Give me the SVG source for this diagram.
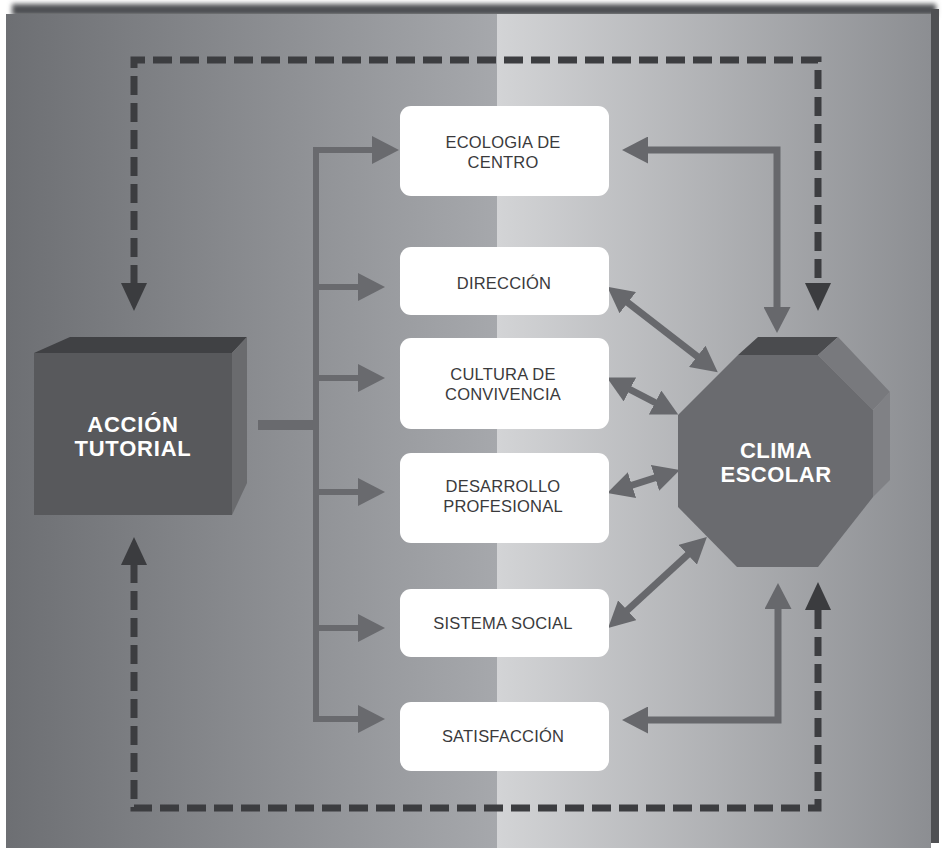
<svg xmlns="http://www.w3.org/2000/svg" width="942" height="851" viewBox="0 0 942 851">
<defs>
<style>
.box{fill:#ffffff;}
.lbl{font-family:"Liberation Sans",Arial,sans-serif;font-size:16.5px;fill:#3a3a3c;text-anchor:middle;letter-spacing:0.2px;}
.big{font-family:"Liberation Sans",Arial,sans-serif;font-size:22px;font-weight:bold;fill:#ffffff;text-anchor:middle;letter-spacing:0.8px;}
.la{fill:none;stroke:#696a6e;stroke-width:6;}
.ra{fill:none;stroke:#67686c;stroke-width:7;}
.da{fill:none;stroke:#3c3d40;stroke-width:7;stroke-dasharray:19 8;}
</style>
<linearGradient id="gl" x1="6" y1="0" x2="497" y2="0" gradientUnits="userSpaceOnUse">
<stop offset="0" stop-color="#6d6f73"/><stop offset="1" stop-color="#a6a8ac"/>
</linearGradient>
<linearGradient id="gr" x1="497" y1="0" x2="931" y2="0" gradientUnits="userSpaceOnUse">
<stop offset="0" stop-color="#d3d4d6"/><stop offset="1" stop-color="#8c8e92"/>
</linearGradient>
<filter id="blur" x="-5%" y="-50%" width="110%" height="200%"><feGaussianBlur stdDeviation="2.5"/></filter>
<marker id="hl" viewBox="0 0 27 28" refX="1" refY="14" markerWidth="27" markerHeight="28" markerUnits="userSpaceOnUse" orient="auto-start-reverse"><path d="M0,0 L27,14 L0,28 z" fill="#696a6e"/></marker>
<marker id="hr" viewBox="0 0 26 27" refX="1" refY="13.5" markerWidth="26" markerHeight="27" markerUnits="userSpaceOnUse" orient="auto-start-reverse"><path d="M0,0 L26,13.5 L0,27 z" fill="#67686c"/></marker>
<marker id="hd" viewBox="0 0 28 26" refX="1" refY="13" markerWidth="28" markerHeight="26" markerUnits="userSpaceOnUse" orient="auto-start-reverse"><path d="M0,0 L28,13 L0,26 z" fill="#3b3c3f"/></marker>
</defs>

<rect width="942" height="851" fill="#ffffff"/>
<!-- background panel -->
<rect x="12" y="4" width="924" height="12" fill="#4e4f52" filter="url(#blur)"/>
<rect x="931" y="9" width="8" height="834" fill="#4f5053"/>
<rect x="6" y="14" width="491" height="834" fill="url(#gl)"/>
<rect x="497" y="14" width="434" height="834" fill="url(#gr)"/>

<!-- connectors -->
<g id="connectors">
<rect x="258" y="420" width="58" height="10" fill="#696a6e"/>
<path class="la" d="M316,722 V150 H373" marker-end="url(#hl)"/>
<path class="la" d="M316,287 H359" marker-end="url(#hl)"/>
<path class="la" d="M316,378 H359" marker-end="url(#hl)"/>
<path class="la" d="M316,492 H359" marker-end="url(#hl)"/>
<path class="la" d="M316,628 H359" marker-end="url(#hl)"/>
<path class="la" d="M316,719 H359" marker-end="url(#hl)"/>

<path class="ra" d="M647,150 H777 V308" marker-start="url(#hr)" marker-end="url(#hr)"/>
<path class="ra" d="M647,720 H778 V608" marker-start="url(#hr)" marker-end="url(#hr)"/>
<path class="ra" d="M627,302 L698,357" marker-start="url(#hr)" marker-end="url(#hr)"/>
<path class="ra" d="M629,389 L656,403" marker-start="url(#hr)" marker-end="url(#hr)"/>
<path class="ra" d="M631,485.5 L656,477.5" marker-start="url(#hr)" marker-end="url(#hr)"/>
<path class="ra" d="M626.5,611 L688.5,554" marker-start="url(#hr)" marker-end="url(#hr)"/>

<path class="da" d="M134,284 V60 H818 V284" marker-start="url(#hd)" marker-end="url(#hd)"/>
<path class="da" d="M134,564 V808 H818 V609" marker-start="url(#hd)" marker-end="url(#hd)"/>
</g>

<!-- Accion tutorial -->
<g id="accion-tutorial">
<polygon points="34,353 70,337 247,337 232,353" fill="#404144"/>
<polygon points="232,353 247,337 247,483 232,515" fill="#6a6b6e"/>
<rect x="34" y="353" width="198" height="162" fill="#58595c"/>
<text class="big" x="133" y="432">ACCIÓN</text>
<text class="big" x="133" y="456">TUTORIAL</text>
</g>

<!-- Clima escolar -->
<g id="clima-escolar">
<polygon points="738,355 758,337 838,337 818,355" fill="#4a4b4e"/>
<polygon points="818,355 838,337 890,392 873,410" fill="#78797d"/>
<polygon points="873,410 890,392 890,480 873,497" fill="#808185"/>
<polygon points="738,355 818,355 873,410 873,497 818,567 737,567 678,507 678,415" fill="#6a6b6f"/>
<text class="big" x="776" y="458" style="letter-spacing:0.5px">CLIMA</text>
<text class="big" x="776" y="482" style="letter-spacing:0.5px">ESCOLAR</text>
</g>

<g id="ecologia">
<rect class="box" x="400" y="106" width="209" height="90" rx="11"/>
<text class="lbl" x="503" y="148">ECOLOGIA DE</text>
<text class="lbl" x="503" y="168">CENTRO</text>
</g>
<g id="direccion">
<rect class="box" x="400" y="247" width="209" height="68" rx="11"/>
<text class="lbl" x="504" y="289">DIRECCIÓN</text>
</g>
<g id="cultura">
<rect class="box" x="400" y="338" width="209" height="91" rx="11"/>
<text class="lbl" x="503" y="380">CULTURA DE</text>
<text class="lbl" x="503" y="400">CONVIVENCIA</text>
</g>
<g id="desarrollo">
<rect class="box" x="400" y="453" width="209" height="90" rx="11"/>
<text class="lbl" x="503" y="492">DESARROLLO</text>
<text class="lbl" x="503" y="512">PROFESIONAL</text>
</g>
<g id="sistema">
<rect class="box" x="400" y="589" width="209" height="68" rx="11"/>
<text class="lbl" x="503" y="629">SISTEMA SOCIAL</text>
</g>
<g id="satisfaccion">
<rect class="box" x="400" y="702" width="209" height="69" rx="11"/>
<text class="lbl" x="503" y="742">SATISFACCIÓN</text>
</g>
</svg>
